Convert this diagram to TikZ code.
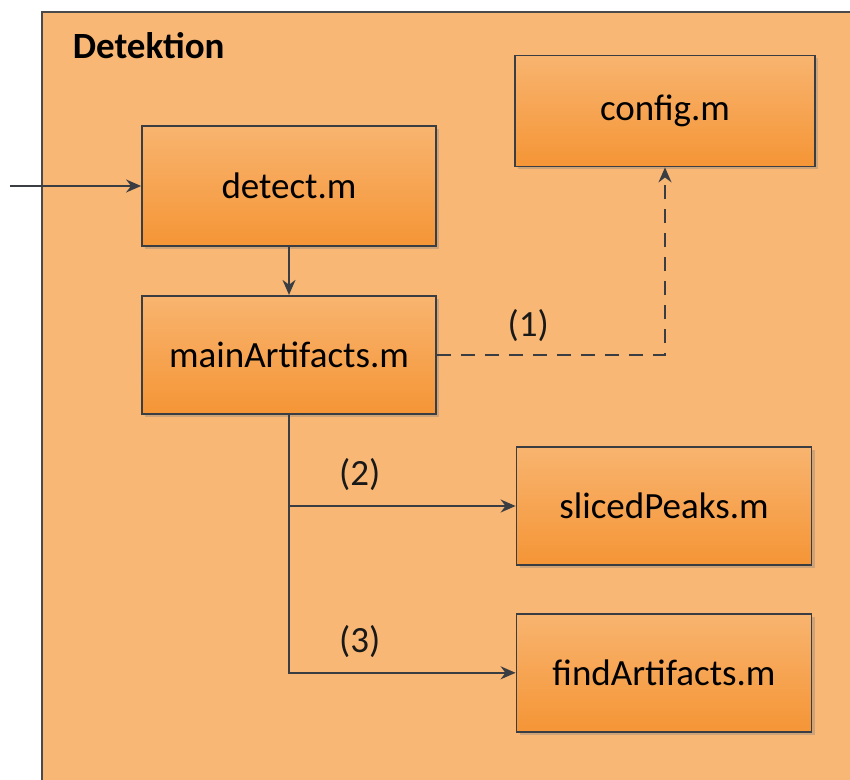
\documentclass[tikz,border=0pt]{standalone}
\usepackage{fontspec}
\setmainfont{Carlito}
\usepackage{tikz}
\usetikzlibrary{positioning,arrows.meta,shadows}

\definecolor{bgorange}{HTML}{F9B775}
\definecolor{boxtop}{HTML}{F8B46F}
\definecolor{boxbottom}{HTML}{F59536}
\definecolor{linegray}{HTML}{3A3E42}
\definecolor{framegray}{HTML}{4A4A4A}

\begin{document}
\begin{tikzpicture}[x=0.5pt,y=-0.5pt,>={Stealth[length=7.5pt,width=6.5pt]},
  line width=0.9pt,
  module/.style={draw=linegray,top color=boxtop,bottom color=boxbottom,
    minimum width=147pt,minimum height=59pt,inner sep=0pt,
    font=\fontsize{18.5}{22}\selectfont,text=black,
    drop shadow={shadow xshift=1.5pt,shadow yshift=-1.5pt,opacity=0.35}},
  conn/.style={->,draw=linegray},
  tag/.style={font=\fontsize{18.5}{22}\selectfont,text=black!90,inner sep=0pt}]
  \useasboundingbox (0,0) rectangle (850,780);
  \clip (0,0) rectangle (850,780);
  \draw[draw=framegray,fill=bgorange] (42,12) rectangle (900,830);
  \node[anchor=base west,inner sep=0pt,font=\fontsize{18.5}{22}\selectfont\bfseries] (title) at (72,59) {Detektion};

  \node[module,minimum height=60pt] (detect) at (289,186) {detect.m};
  \node[module,below=24pt of detect] (main) {mainArtifacts.m};
  \node[module,minimum width=150pt,minimum height=55.5pt] (config) at (665,111) {config.m};
  \node[module,minimum width=147.5pt] (sliced) at (664,506) {slicedPeaks.m};
  \node[module,minimum width=147.5pt,below=23.5pt of sliced] (find) {findArtifacts.m};

  \coordinate (in) at (10,186);
  \draw[conn] (in) -- (detect);
  \draw[conn] (detect) -- (main);
  \draw[conn,dash pattern=on 7pt off 5pt] (main.east) -| node[tag,pos=0.2,above=6pt] {(1)} (config.south);
  \draw[conn] (main.south) |- node[tag,pos=0.656,above=7pt] {(2)} (sliced.west);
  \draw[conn] (main.south) |- node[tag,pos=0.656,above=7pt] {(3)} (find.west);
\end{tikzpicture}
\end{document}
